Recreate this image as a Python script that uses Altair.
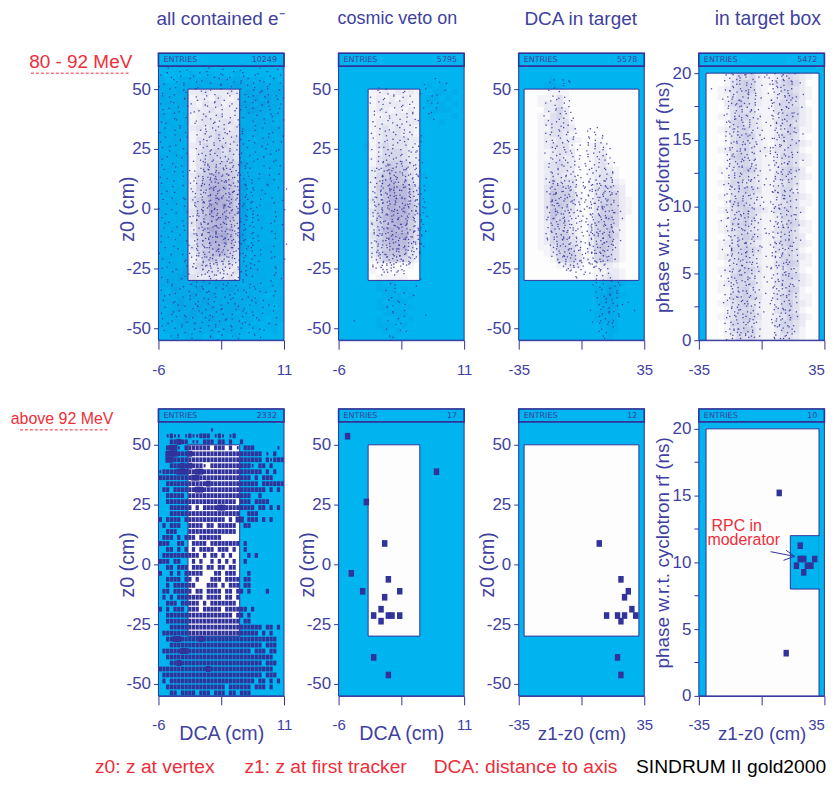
import altair as alt
import pandas as pd

BLUE = "#00b5ef"
NAVY = "#32329b"
TEXT = "#3f419f"
RED = "#ee2e3a"
WHITE = "#fdfdfd"
FONT = "Liberation Sans"

COLUMN_TITLES = ["all contained e\u207b", "cosmic veto on", "DCA in target", "in target box"]
TITLE_X = [62.3, 59, 62.2, 69.2]
TITLE_SIZE = [19, 18, 19, 19.4]
ENTRIES_TOP = [10249, 5795, 5578, 5472]
ENTRIES_BOTTOM = [2332, 17, 12, 10]

# density read from the top row, digit 0-9, 20 columns, rows from the top of the panel down
DENS1 = [
"00000000000000000000","00000100100010000000","10011112112122111010","11112121222232212111",
"12121223222322323222","21212122132122232321","12122213231223323221","11211222322222332211",
"21212123232222222121","12112123323321222211","11211232333232221221","21121123343332121112",
"11211133343342112211","12111224344332122111","11211134453432111211","21112134544432112111",
"11212134555443211121","12111135565542111111","11211245676542112111","11112146787643211211",
"21111256888654111111","12111245887753112111","11211356898753211111","11111256989754111211",
"21112356988763111111","11111257889753112111","12111356788653111111","11211257988743111111",
"11111356899753211111","11121256889743111111","11111345787643211211","11211246677532111111",
"12112135654431111111","11212244333322211111","21223233332232221111","12232322322322212111",
"22222323232221221111","11322232222322112111","21222322322212211011","12232223222222121111",
"21232232322232121101","12222322222212111111","11223222322221211011","12122222222121110110",
"01112121211211010010","00101110101010000000",
]
DENS2 = [
"00000000000000000000","00000000000000000000","00000000000000000000","00000000000000101000",
"00000112121210011010","00000121212110110100","00000122222110101010","00000122121210011100",
"00000112222210100010","00000122222220001000","00000123232210000000","00000123332210000000",
"00000123333220000000","00001134333210000000","00000124443220000000","00000134443220000000",
"00000134554320000000","00000235655320000000","00000245665321000000","00000246766420000000",
"00000256877530000000","00000246877530000000","00000346888530000000","00000256878640000000",
"00000356888640000000","00000257887630000000","00000346788530000000","00000257877530000000",
"00000346888530000000","00000256877530000000","00000245777420000000","00000246666320000000",
"00000135554310000000","00000010100100000000","00000101010000000000","00000011111000000000",
"00000010100000000000","00000011101000000000","00000001110100000000","00000010111000000000",
"00000011010100000000","00000001111000000000","00000010010100000000","00000011101000000000",
"00000001010000000000","00000000100000000000",
]
DENS3 = [
"00000000000000000000","00000000000000000000","00000100000000000000","00001210000000000000",
"00000111000000000000","00011131000000000000","00012231000000000000","00002242000000000000",
"00011342000000000000","00012333100000000000","00011333200000000000","00012332100000000000",
"00012232210010000000","00012333100121000000","00011233200122000000","00011232200123000000",
"00012343210023100000","00012333200123210000","00012332200123310000","00012433310123321000",
"00013554310134432000","00013655410134442000","00013655420134542100","00013565310135542100",
"00013654310135552100","00013644210145642000","00012554210255541000","00012544210245631000",
"00012455310255641000","00012455320245631000","00011355420256531000","00001245530146431000",
"00000144531145531000","00000012320012210000","00000000000011221000","00000000000012321000",
"00000000000001221000","00000000000011320000","00000000000012321000","00000000000012210000",
"00000000000001220000","00000000000012210000","00000000000011210000","00000000000001110000",
"00000000000000110000","00000000000000100000",
]
DENS4 = [
"00001243421123432100","00001345421134542000","00012345421024432100","00011344321123542100",
"00002454321134432000","00001343311134442100","00011344321124542100","00001453321134432100",
"00012344321123541100","00001345421124431000","00001344321023442100","00012344322133431000",
"00001454321124432100","00001344321123431100","00011345421124542000","00001344321134432100",
"00012443321123431000","00001345431134421000","00011344321124432100","00001454321123431100",
"00012345432134432000","00001345421124431000","00011445321123542100","00012344321134431100",
"00001345431124432000","00012344321134532100","00011445431133431000","00012345321124432100",
"00001344321134541100","00012345431123431000","00001454321124542100","00012344421134432100",
"00011345321123541000","00001445431134431100","00012345321124532100","00001344421134431000",
"00012345431123542100","00001444321134432000","00001345421124431000","00001243421123321000",
]

# dots of the top row: one string per row from the top down, 36 cells per string, the digit is where the dot sits in its cell
DOTS1 = [
"..3.....7.....2...5....8.....1....4.",
".6...2.....4.1...7..3..5...9..2.....",
"2..8..4..6...3.9..1.7...4..2...6..3.",
"...5....1..8....2.6...9.3...7...1...",
".7..3.6...2...5..8...1.4..6..3.8..5.",
"4...9..1...7.....3..6....2.8...4....",
"..2...5..3.8..4..1..7.3...5.9.2..6..",
"6...7..2.....1.9...5..4.8...3..7....",
".1.4...8..6..3...7..2....6.1..5..3.9",
"..9...3...5.2..8..4...1.7..4..9..2..",
"5...1....4...7.3.9..6.....3..8.1..6.",
"..7.6..2.....1.5...2.8..4.7...3..9..",
"3....8...9.4..7..3...5.1....6..2....",
".5..2....1..6...8.4..9...3..7...4.1.",
"...9...4....3.7..2.6...5.....8.3....",
"8...3.....5.1..9.4..7.2...6.....5..2",
"..1...7...2..8.3..6.1..4...9..2.....",
".4...5......9.6.2.7..3.8.....4...6..",
"7...2..8...3.5..1.9.4..6...2....8...",
"...6......4.2.7.5.3..8.1..7...3...9.",
".2...9.3....8.1.6.4.2..7.....5.1....",
"5.....1....6.3.9.2.7.5...3.8....6..4",
"..8.4......1.7.4.8.3.6.2....9.2.....",
"3.....6...5.2.9.6.1.4.7..1....5...7.",
"...1....7...8.3.7.5.2..9...6.....3..",
".9..5.....3.6.1.4.8.3.2..5...8.2....",
"6.....2....9.4.8.2.6.7.1....4....8..",
"...7.....1..5.2.9.3.4.6.8.2.....1...",
"2...8.4.....3.7.1.6.9.2.5....6....5.",
".5......9...6.4.8.2.5.7.3.1....3....",
"...3..1.....2.8.5.9.1.4.6...7....9..",
"7.....6....4.9.2.6.3.8.1.5.....2....",
"..2.8.....7.3.6.1.7.4.9.2.6.3....4..",
"4.......5...8.2.5.3.6.1.7.4...8.....",
"...6..3.....1.9.4.8.2.5.3.9....1..7.",
".8......2...6.3.7.1.9.4.2.5.6......3",
"5...1.....4.2.8.5.6.3.7.9.1...4.....",
"...9...7....5.1.9.2.4.8.6.3.....8...",
"2.....3...8.7.4.2.6.1.5.3.7.2.....6.",
"..4.6.....1.3.9.5.8.2.6.4.1.9...3...",
"7......2....6.2.7.3.5.9.1.8.4.......",
"...1...8..5.4.8.1.6.2.7.3.5.....9..2",
".6..3.....9.2.5.8.4.1.3.9.6.7.......",
"4.......1...7.3.6.2.5.8.2.4.....3...",
"..8...5...2.9.6.1.7.4.9.3.8.1...6...",
".3.....7....4.1.8.3.6.2.5.7.....1..5",
"6...2.....6.8.3.5.9.1.4.7.2.6.......",
"...5...1....2.7.4.6.3.8.1.9.....4...",
"9.....4...3.5.9.2.7.6.1.4.3.8....2..",
"..1.7.....8.6.3.1.5.9.2.7.5.....6...",
"5......3....2.8.4.9.3.6.1.8.2.......",
"...8...6..1.7.4.5.2.6.3.9.4.....7..3",
".2...4....5.3.1.8.7.2.5.6.1.9.......",
"7.......9...6.5.2.4.8.1.7.3.....4...",
"..3...1...4.8.6.3.9.5.2.4.6.2...8...",
"6......8....1.2.7.5.3.9.1.5.....1..6",
"...4...2..7.3.9.6.1.8.4.2.8.3.......",
".9.....5....6.4.1.8.2.7.5.3.....9...",
"3...6.....2.5.7.3.4.1.6.9.1.4....2..",
"...1...9....8.2.6.9.5.3.7.......6...",
"8......4..6...4.1.7.2.8.3.5.....3...",
"..5...2.....9.3.5.1..6..4.......7..1",
".3.7....8.1..6...9.4...2.8..5.......",
"...2..6...5.4...7..1.3...9.4....2...",
"6.....1.9...3.8...2...6.5..3.7...8..",
"..8.4.....7..1.5...9.4..2.....1.....",
".2....6.3...9...4.6..7...5.8....3...",
"5..9....1.8..2.7...3...1.6...4......",
"...3.7....4..6...8.2.5...9.2...7....",
".6.....2.9.1...5..7...3.8....6...1..",
"...8.4....6.3..9.1...2.5..7.....4...",
"2..5...7....1.8...4.6...3.9..2......",
".7...1.3.6...5.2...8.7..1...4....6..",
"...4...8...9.3..6.2...5.7...1.......",
"9.2...5...1...7.4...8..3.6.....2.5..",
"...6.3...8.4...2.9..1.6...4.7.......",
".1.....7...5..3.6...2....8...3......",
"...8.5...2....9...4..7.1...5........",
"....3...6.....1.7.....4.....2.......",
]
DOTS2 = [
"",
"",
"",
"..........................3.....",
"........................7...2.5.",
"...........8.....................",
"..........5.3.....7.....1....6..",
"...........2.6.8..1....4...9....",
".........4...7.3..5.2.....3.....",
"..........9.1...6...8...6.......",
"........3...5.2...7.4.....2.1...",
"...........8...4.1..6..5...4....",
".........6.2.7...3..9.....7.....",
"..........4...8.5..2.1...3......",
"...........1.6..9.3..7....8.....",
".........5...3.7...4..2.........",
"..........8.2...6.1.5...........",
"...........4.9..3.7..2..........",
".........7...1.5..8.4...........",
"..........3.6..2.9..1.6.........",
".........2...8.4.7.5............",
"...........5.1..6.3..9.2........",
"..........9.7.3...2.8.4.........",
".........4...6.1.5.9..7.........",
"...........2.8.4..7.3.1.........",
"..........6..3.9.1.5.8..........",
".........1.7.5.2.8.4..6.........",
"...........3.9.6.4.2.7.1........",
"..........8..1.7.3.5.9..........",
".........5.2.6.4.8.1.3.7........",
"...........9.3.7.2.6.5..........",
"..........4.1.8.5.3.9.2.6.......",
".........7.6.2.4.7.1.8..........",
"...........3.8.1.6.5.4.9........",
"..........1.5.9.2.3.7.6.........",
".........8.4.3.7.1.5.2.3........",
"...........6.2.8.4.9.7.1........",
"..........3.7.1.5.6.2.8.4.......",
".........5.9.4.2.8.3.1.6........",
"...........1.6.3.7.2.5.9........",
"..........8.2.5.9.4.1.7.3.......",
".........4.6.7.1.3.8.2.5........",
"...........9.3.2.6.5.7.1.4......",
"..........1.8.5.4.9.3.6.........",
".........7.2.6.1.8.4.2.9........",
"...........4.9.3.7.1.5.8........",
"..........6.1.8.2.3.9.4.7.......",
".........3.5.4.7.6.2.1.8........",
"...........2.9.1.8.5.4.3........",
"..........7.6.3.5.2.9.1.........",
".........1.4.8.2.7.3.6.5........",
"...........5.3.9.6.1.8.2........",
"..........8.7.1.4.3.5.9.........",
".........2.6.5.9.8.1.4..........",
"...........4.1.3.7.6.2..........",
"..........9.5.8.2.1.7...........",
".........6...3.4.9.5............",
"...........2.7.1.8..............",
"............6.3.5...............",
"",
".......................4........",
"..............9..................",
"...............2.....5...........",
".............7.3.................",
"................1.6..............",
"..............8.....3............",
"..............4.9................",
"................2.7..............",
".............5.1.................",
"...............8..6..............",
"..............3.........7........",
"................9.2..............",
"....5.........4..................",
"...............6.1...............",
".............8....................",
"................3.5..............",
"..............7...................",
"...............2..................",
]
DOTS3 = [
"",
"",
"",
".........4.6.8..",
"........2...5.1.",
"..........7.3...",
".......6..9.....",
"",
".........3.8.4..",
"........5.1..6.",
".......2..7.3.",
".........9.5.2.",
"........4.1.6.8",
".......7...3.2.",
"..........9.4.6",
"........1.5.8.3.",
".......6.2..7.4.",
"........3.9.1..5...6.3",
".......8.4.2.6..7..2.5.",
"........1.5.3.9....7.1.4",
".........7.2.8.4...3.8.2",
".......3.6..5.1....6.9.5.7",
"........9.4.7.2.3..1.4.8",
"..........1.6.8.5..7.2.6.3",
".......5.3.9.2.4...9.5.1.7",
"........8.1.7.6.3..4.6.2.8",
".........2.5.4.9.1..7.3.5.",
".......6.3.8.1.7..4.9.1.6.2",
"........4.9.2.5.6.3.8.5.7.",
".........7.1.6.8.2..1.4.3.9",
"........3.5.9.4.7.6.2.8.5.1",
".......8.2.6.1.3.5..7.3.9.4.",
"........9.4.7.5.2.8.4.1.6.3.",
".........1.3.8.6.9..5.2.7.8.",
"........6.7.2.4.1.3.9.6.3.1.",
".......4.9.5.3.8.7.2.1.8.4.5",
"........2.1.6.7.4..5.3.9.6.2.",
".........8.5.3.9.6.7.4.1.8.",
"........3.7.1.2.5.4.9.6.2.5.",
".......9.6.4.8.3.1..2.8.7.1.4",
"........1.5.2.7.9.6.3.5.4.9.",
".........3.8.6.4.1..8.7.1.6.2",
"........7.2.9.5.6.4.2.3.9.8.",
".......4.1.3.8.2.7..5.6.1.4.3",
"........6.9.5.7.4.3.8.2.7.6.",
".........2.4.1.8.6..9.1.3.5.",
"........8.3.7.6.1.9.4.8.2.7.4",
".......5.1.9.2.4.3..6.5.1.3.",
"........7.4.6.8.5.2.9.3.7.4.",
".........2.3.1.9.7..1.6.8.2.5",
"........9.6.5.4.8.3.7.4.1.9.",
"..........1.2.7.6.9.2.5.3.6.",
".........8.4.3.5.1..8.9.4.2.",
"..........6.9.2.7.4.3.1.7.5.",
"...........3.1.8.6..5.8.2.9.",
"...........7.4.5.2.9.6.4.1.",
"............9.6.3.8.2.7.5.",
".............5.1.7..3.9.6.",
"..............2.4.6.7..1.8",
"...............8.3...5.4",
"................1....6.9.3",
"......................4.7.2.5",
"....................2.8...6.1",
".......................5.3.9",
"......................1...7.4",
".....................9.6.2.8",
"........................3.5",
"......................7.1.4.9.2",
".......................6.8.3",
"....................5..2.9.7.....4",
".......................4.1.6",
"......................3.8...2",
".....................7.5.9.4",
"......................2.6.1",
".......................8..3",
"......................4.7",
".......................9",
"........................5",
]
DOTS4 = [
".......6.2.8.4.1...5.3.9.7.2",
"........4.7.3.9.2.1..6.8.4.",
".......1.5.2.8.6....3.7.1.5.9",
"........9.3.6.1..4.2.8.5.3.",
"...4...7.2.5.9.8....6.1.7.4.",
"........3.6.1.4.7..9.5.2.8.",
".......8.1.9.2.5.....3.6.4.7.1",
"......5..4.7.3.6.2..8.1.9.2.",
"........2.9.1.8.4....5.7.6.3.",
".......6.3.5.7.2....4.2.8.1.9",
"........1.8.4.9.6..3.7.5.2.",
".......7.5.2.3.1.....9.4.6.8.",
"......3..6.9.1.7.4..2.8.3.5.",
"........8.2.4.5.3....1.6.7.9.",
".......1.7.3.9.6..2..5.4.8.",
"........5.6.2.4.8....9.1.3.7.",
".......9.3.7.1.5..4..6.2.8.",
"........4.8.6.2.9....3.7.5.1.4",
".......2.1.5.3.7..8.9.6.4.",
"......6..7.9.4.8.1...2.5.3.6.",
"........3.2.6.1.4....8.7.9.2.",
".......8.5.9.7.3..6..4.1.5.",
"........1.4.2.8.6....7.3.9.8.",
".......6.7.3.5.2..9.1.4.8.5.",
"........9.1.8.4.7....2.6.3.",
".......2.6.5.3.1.....8.9.4.7.1",
"........8.3.7.9.4..6.5.2.1.",
".......4.1.2.6.5.....3.7.8.9.",
"......7..9.8.3.2.1...6.4.5.2.",
"........5.4.1.7.6....9.3.2.8.",
".......3.2.9.8.1..5..4.7.6.",
"........7.6.4.2.3....1.8.5.9.",
".......1.8.5.9.7..3.2.6.4.",
"........4.3.2.6.1....7.9.8.5.",
".......9.7.1.4.8....3.5.2.6.4.",
"......2..5.6.3.9.7...8.1.4.",
"........8.1.7.2.4....6.3.9.5.",
".......3.9.4.5.6..2..7.8.1.",
"........6.2.1.8.3....4.9.5.7.",
".......5.4.7.9.2..1.8.3.6.",
"........1.3.6.4.8....2.5.7.9.1",
".......8.9.2.5.7.....6.4.3.",
"......4..3.1.7.6.2...9.8.5.2.",
"........6.5.8.4.1....3.7.2.9.",
".......2.7.9.3.5..8..1.6.4.",
"........4.1.2.6.3....7.8.9.5.",
".......9.8.5.1.4..2..3.6.7.",
"........3.6.7.9.2....4.1.8.5.",
".......1.2.4.8.6.....9.5.3.7.1",
"........7.5.3.1.9..6.2.4.8.",
"......8..4.9.2.7.3...1.6.5.9.",
"........2.8.6.5.1....4.7.3.",
".......6.1.3.7.4..9..8.2.5.6.",
"........9.4.8.2.5....3.1.7.",
".......3.7.1.6.9.....5.8.4.2.",
"........5.2.4.3.8..7.6.9.1.",
".......8.6.9.1.7....3.2.4.5.",
"........1.3.5.8.2....9.6.7.4.",
"......4..7.2.9.6..8..1.3.5.",
".......2.9.8.4.1.....6.7.3.9.",
"........6.5.3.7.4..1.2.8.9.",
".......1.4.7.2.8.....5.3.6.4.",
"........3.8.9.6.5....2.1.7.",
".......7.2.1.5.3..6..4.9.8.5.",
"........9.6.4.3.8....7.2.1.6.",
".......5.1.8.7.2.....3.9.4.",
"......3..2.7.6.9.1...8.5.6.3.",
"........8.4.3.1.5....9.7.2.",
".......6.9.2.8.4..7..1.3.5.8.",
"........1.7.5.3.6....4.2.9.",
".......4.3.6.9.1.....8.7.5.2.",
"........9.2.8.4.7....6.1.3.",
".......2.6.1.5.3.....9.4.8.7.",
"........7.8.4.2.9....3.5.1.",
".......5.3.9.6.1.....8.2.7.4.",
"........1.6.2.7.8....4.9.3.",
".......8.4.5.3.2.....1.6.5.",
]

# the dense core of the DCA panels, z from 20 down to -28, same cell width
CORE = [
"............3.7...1.5",
"...........8.2.6..9.3",
"..........4.6.1.7.2",
"...........9.3.8.5.4.6",
"..........1.7.2.4.9.3",
"..........6.5.8.1.3.7",
"...........2.9.4.6.8.1",
".........5.3.7.2.1.9.4",
"..........8.1.6.5.7.2.3",
".........4.6.9.3.2.8.5",
"..........7.2.5.1.9.4.6",
".........3.8.4.7.6.1.2",
"..........9.1.3.8.5.2.7",
".........6.5.2.4.7.9.3",
"..........4.7.8.1.2.6.9",
".........1.3.6.9.5.4.8",
"..........7.2.4.3.1.8.6",
".........8.9.5.6.2.7.1",
"..........3.1.7.4.9.5.2",
".........5.6.2.8.3.1.7",
"..........9.4.1.6.8.2.3",
".........2.7.3.5.4.9.1",
"..........6.8.9.2.7.3.5",
".........4.1.5.7.1.6.8",
"..........3.9.2.8.5.4",
".........7.6.4.1.3.2",
"..........2.5.3.9.8",
"...........8.1.7.6",
]
# the dense parts of the two lobes of the DCA in target panel, z from 12 down to -26
LOBES = [
".........3.7.1.5....4.8.2.6",
"........6.2.9.4...7.1.3.9",
"..........8.5.3.....6.2.5.8",
".........1.7.2.6...4.9.1.3",
"........9.4.3.8.....7.5.2.6",
".........5.1.6.2...8.3.9.4",
"..........7.8.4.9..2.6.1.7",
"........2.3.5.1.....4.9.8.3",
".........6.9.7.4...5.1.2.6",
"..........1.2.8.3..7.4.3.9",
"........4.7.6.5.....2.8.1.5",
".........9.3.1.2...6.5.7.4",
"..........5.8.4.7..3.1.9.2",
"........1.6.2.9.....7.4.8.6",
".........7.4.3.5...2.9.1.3",
"..........2.9.1.6..8.5.6.4",
".........8.3.7.4...1.3.2.9",
"..........5.6.1.9..4.7.8",
"...........2.4.8.3..6.1.5",
"............9.7.1...3.4",
]
# a second pass over the two bands of the target box panel, rows spread over the full height
BANDS = [
".........3.6.2......4.7.1.8","........7.1.9.4.....2.6.9.",".........5.8.3......8.3.5.7",
"........2.6.1.7.....1.9.4.",".........9.4.5......6.2.7.3","........3.7.8.2.....5.1.8.",
".........1.5.6......9.4.3.2","........8.2.4.9.....7.6.1.",".........6.3.7......2.8.5.9",
"........4.9.1.5.....3.7.6.",".........2.8.3......1.5.9.4","........7.5.6.1.....8.2.3.",
".........3.1.9......6.4.7.1","........6.4.2.8.....5.9.2.",".........8.7.5......3.1.6.8",
"........1.9.3.6.....4.7.9.",".........5.2.4......7.3.1.5","........9.6.8.3.....2.8.4.",
".........4.1.7......9.6.5.2","........2.5.9.8.....1.3.7.",".........7.3.6......4.2.8.6",
"........8.4.1.5.....6.9.3.",".........1.9.2......5.7.4.1","........3.6.7.4.....8.1.6.",
".........5.8.1......2.4.9.7","........4.2.6.9.....7.5.1.",".........9.7.3......3.6.2.8",
"........6.1.5.2.....9.8.4.",
]

# boxes of the 2332-entry histogram: level of each 0.5 cm x 2.5 cm bin, rows from z = 56.25 down
BOX1 = [
"..............1...................",
"..1211.1211222.121.12.............",
"...22322.11.222.22.2..2...........",
"..2331.2222222.222.2.1.222......1.",
"..33322232222222222222222222.1.2..",
"..33222222222222222222222222.21222",
"...2223232221.222222222221.22.2...",
"1222233322332222222222222222.2.2..",
"2222222223322222222222222.2.222...",
"..2222222222232222222222222.222222",
".22.2222223322222222222222222.2.2.",
"..22222.22222222222222222..2......",
"..2222222222222222222.222.2222....",
"...222222.2.22223322222222.22.2.2.",
"...2222222222222222222..222.......",
"2.2222.22222222222.2.33.222.2.2...",
".2.222..2222.22.22222..22.........",
"..222...2222222222222.............",
".222.2.222.222222..................",
"222..22..2222.22222222.2..........",
"..22.2.2.2.2222.222.2..2..........",
".2222222222.2.22.2.2....2.2.......",
"222.22...2.2..2.2.2.2..2..........",
"..22.222.222.22.22.22.............",
"2..2.2.22222...22.222...2.........",
"..2222.22.2...222.2222.22.........",
"..2.222222...222.2.222.22.........",
".22.22222.22.2222.22.22.2....2....",
".2.2.2222222.2222.22.2............",
"..222.22222.2.2222222.............",
"2.2.222.222.22222.222222.2........",
"..222222222222222222.22.2.........",
"..22222222222222222222.22.........",
"...2222222222222222222222222.22.2.",
".22222222222222222222222222.2.2...",
"..223322222322222222222222222222..",
"...2222222222222222222222222.222..",
".222223322222222222222222.222.22..",
"..22222222222222222222222222222...",
"...2232222222222222222222222.222..",
"2222222222222322222222222222222...",
".222222222222222222222222222.222..",
".2.22222222222222222222222.22.2.2.",
"..2222222222222222.222222.222.2...",
"...22.2222.222.222.22.222.........",
]

P2_X = [-4.78,7.26,-2.24,0.24,-4.28,0.74,-2.74,2.28,0.24,-0.25,-1.25,0.74,1.24,2.28,-0.25,-1.25,0.74]
P2_Z = [53.6,38.75,26.1,8.75,-3.75,-6.25,-11.25,-11.25,-13.75,-18.75,-21.4,-21.4,-21.4,-21.4,-23.75,-38.9,-46.25]
P3_X = [9.9,22,26.1,24,28.1,14,20.1,24,30.2,22,20.1,22]
P3_Z = [8.75,-6.25,-11.25,-13.75,-18.75,-21.4,-21.4,-21.4,-21.4,-23.75,-38.9,-46.25]
P4_X = [9.8,13.7,21.5,19.4,21.5,23.5,25.5,27.5,29.6,23.5]
P4_Y = [15.2,3.2,11.25,9.75,10.25,10.25,9.75,9.75,10.25,9.25]

ARROW_X0 = [5, 13.7, 12.2]
ARROW_Y0 = [10.8, 10.9, 10.15]
ARROW_X1 = [18.3, 18.3, 18.3]
ARROW_Y1 = [10.45, 10.45, 10.45]

ROW_SHIFT = [0, 0.7, 0.25, 0.9, 0.45, 0.1, 0.8, 0.35]

DCA = ([-6, 11], [-6, 2.5, 11], ["-6", "11"])
Z10 = ([-35, 35], [-35, 0, 35], ["-35", "35"])

PANEL_W = 126
PANEL_H = 288


def dens_frame(rows, xr, ytop, ystep):
    n = 20
    w = (xr[1] - xr[0]) / n
    out = []
    for i, r in enumerate(rows):
        for j, c in enumerate(r):
            if c != "0":
                out.append(dict(x0=xr[0] + j * w, x1=xr[0] + (j + 1) * w,
                                y0=ytop - i * ystep, y1=ytop - (i + 1) * ystep, d=int(c)))
    return pd.DataFrame(out)


def dots_frame(rows, xr, ytop, ybottom):
    w = (xr[1] - xr[0]) / 36
    h = (ytop - ybottom) / len(rows)
    out = []
    for i, r in enumerate(rows):
        for j, c in enumerate(r[:36]):
            if c != ".":
                d = int(c) - 1
                x = xr[0] + (j + (d % 3 + 0.5) / 3 + ROW_SHIFT[i % len(ROW_SHIFT)]) * w
                out.append(dict(x=x, y=ytop - (i + (d // 3 + 0.5) / 3) * h))
    return pd.DataFrame(out)


def rect_frame(xs, ys, hw, hh):
    return pd.DataFrame(dict(x0=[v - hw for v in xs], x1=[v + hw for v in xs],
                             y0=[v - hh for v in ys], y1=[v + hh for v in ys]))


def panel(xspec, entries, box, notch=None, dens=None, dots=None, rects=None, extra=(),
          xtitle=None, phase=False, arrows=False, tone=0.42):
    xd, xvals, xlab = xspec
    yd = [0, 21.49] if phase else [-55, 65]
    xs = alt.Scale(domain=xd, nice=False, zero=False)
    ys = alt.Scale(domain=yd, nice=False, zero=False)
    yvals = [0, 2.5, 5, 7.5, 10, 12.5, 15, 17.5, 20] if phase else [50, 25, 0, -25, -50]
    align = {"condition": {"test": "datum.value==35", "value": "right"}, "value": "center"} if phase else "center"
    xaxis = alt.Axis(values=xvals, title=xtitle, grid=False, tickSize=9, tickColor=NAVY, domainColor=NAVY,
                     labelExpr=f"datum.value=={xd[0]}?'{xlab[0]}':datum.value=={xd[1]}?'{xlab[1]}':''",
                     labelFont=FONT, labelFontSize=15, labelColor=TEXT, labelPadding=13, labelAngle=0,
                     labelAlign=align,
                     labelOverlap=False, labelFlush=False, labelBound=False, titleFont=FONT,
                     titleFontSize=18.8 if xd[0] == -35 else 19.7,
                     titleFontWeight="normal", titleColor=TEXT, titleY=38, titleBaseline="middle")
    yaxis = alt.Axis(values=yvals, title="phase w.r.t. cyclotron rf (ns)" if phase else "z0 (cm)", grid=False,
                     tickSize=5, tickColor=NAVY, domainColor=NAVY,
                     labelExpr="datum.value%5==0?''+datum.value:''" if phase else "''+datum.value",
                     labelFont=FONT, labelFontSize=17, labelColor=TEXT, labelPadding=3, labelOverlap=False,
                     labelBound=False, labelFlush=False, titleFont=FONT, titleFontSize=19 if phase else 19.7,
                     titleFontWeight="normal",
                     titleColor=TEXT, titleAngle=-90, titleBaseline="middle", titleAlign="center",
                     titleX=-36 if phase else -31, titleY=144 if phase else 156)

    def X(f):
        return alt.X(f, type="quantitative", scale=xs, axis=xaxis)

    def Y(f):
        return alt.Y(f, type="quantitative", scale=ys, axis=yaxis)

    def rect(df, **mk):
        return alt.Chart(df).mark_rect(**mk).encode(X("x0"), alt.X2("x1"), Y("y0"), alt.Y2("y1"))

    def one(a, b, c, d):
        return pd.DataFrame(dict(x0=[a], x1=[b], y0=[c], y1=[d]))

    layers = [rect(one(xd[0], xd[1], yd[0], yd[1]), fill=BLUE, stroke=NAVY, strokeWidth=1)]
    layers.append(rect(one(*box), fill=WHITE, stroke=NAVY, strokeWidth=1))
    if notch:
        layers.append(rect(one(*notch), fill=BLUE, stroke=NAVY, strokeWidth=1))
        layers.append(rect(one(notch[1] - 0.4, notch[1] + 1, notch[2] + 0.04, notch[3] - 0.04), fill=BLUE))
    if dens is not None:
        layers.append(alt.Chart(dens).mark_rect(fill=NAVY).encode(
            X("x0"), alt.X2("x1"), Y("y0"), alt.Y2("y1"),
            opacity=alt.Opacity("d:Q", scale=alt.Scale(domain=[0, 9], range=[0, tone]), legend=None)))
    if dots is not None:
        layers.append(alt.Chart(dots).mark_square(size=1.7, color=NAVY, opacity=0.85).encode(X("x"), Y("y")))
    if rects is not None:
        layers.append(rect(rects, fill=NAVY))
    top = yd[1]
    hdr = 5.4 * (yd[1] - yd[0]) / 120
    layers.append(rect(one(xd[0], xd[1], top - hdr, top), fill=BLUE, stroke=NAVY, strokeWidth=1.6))
    if arrows:
        arrow_df = pd.DataFrame(dict(x0=ARROW_X0, x1=ARROW_X1, y0=ARROW_Y0, y1=ARROW_Y1))
        layers.append(alt.Chart(arrow_df).mark_rule(color=NAVY, strokeWidth=1).encode(
            X("x0"), alt.X2("x1"), Y("y0"), alt.Y2("y1")))
    layers.append(label("ENTRIES", 5, 7, 8, TEXT, "left", "DejaVu Sans"))
    layers.append(label(str(entries), 119, 7, 8, TEXT, "right", "DejaVu Sans"))
    layers.extend(extra)
    return alt.layer(*layers).properties(width=PANEL_W, height=PANEL_H)


def label(text, x, y, size=19, color=TEXT, align="center", font=FONT):
    return alt.Chart(pd.DataFrame({"a": [1]})).mark_text(
        text=text, font=font, fontSize=size, color=color, align=align, baseline="middle"
    ).encode(x=alt.value(x), y=alt.value(y))


def dash(x0, x1, y):
    return alt.Chart(pd.DataFrame({"a": [1]})).mark_rule(color=RED, strokeDash=[3, 2], strokeWidth=1).encode(
        x=alt.value(x0), x2=alt.value(x1), y=alt.value(y))


def title(i):
    return label(COLUMN_TITLES[i], TITLE_X[i], -34, TITLE_SIZE[i])


DCA_BOX = (-2, 5, 50, -30)
Z_BOX = (-32, 32, 50, -30)
PHASE_BOX = (-31, 32, 0, 20)

box_rows = []
for i, r in enumerate(BOX1):
    zc = 56.25 - 2.5 * i
    for j, c in enumerate(r[:34]):
        if c != ".":
            hw = {"1": 0.13, "2": 0.22, "3": 0.31}[c]
            hh = {"1": 0.7, "2": 1.0, "3": 1.25}[c]
            xc = -6 + 0.25 + 0.5 * j
            box_rows.append(dict(x0=xc - hw, x1=xc + hw, y0=zc - hh, y1=zc + hh))
box_df = pd.DataFrame(box_rows)

core_a = dots_frame(CORE, (-6, 11), 20, -28)
p1_dots = pd.concat([dots_frame(DOTS1, (-6, 11), 59, -55), core_a])
p2_dots = pd.concat([dots_frame(DOTS2, (-6, 11), 59, -55), core_a])
p3_dots = pd.concat([dots_frame(DOTS3, (-35, 35), 59, -55), dots_frame(LOBES, (-35, 35), 12, -26)])
p4_dots = pd.concat([dots_frame(DOTS4, (-35, 35), 20, 0), dots_frame(BANDS, (-35, 35), 20, 0)])

p1 = panel(DCA, ENTRIES_TOP[0], DCA_BOX, dens=dens_frame(DENS1, (-6, 11), 60, 2.5), dots=p1_dots,
           extra=[title(0), label("80 - 92 MeV", -78, 9, 19, RED), dash(-128, -28, 20)])
p2 = panel(DCA, ENTRIES_TOP[1], DCA_BOX, dens=dens_frame(DENS2, (-6, 11), 60, 2.5), dots=p2_dots, extra=[title(1)])
p3 = panel(Z10, ENTRIES_TOP[2], Z_BOX, dens=dens_frame(DENS3, (-35, 35), 60, 2.5), dots=p3_dots, extra=[title(2)], tone=0.28)
p4 = panel(Z10, ENTRIES_TOP[3], PHASE_BOX, dens=dens_frame(DENS4, (-35, 35), 20, 0.5), dots=p4_dots,
           phase=True, extra=[title(3)], tone=0.25)

FOOT_Y = 359
p5 = panel(DCA, ENTRIES_BOTTOM[0], DCA_BOX, rects=box_df, xtitle="DCA (cm)", extra=[
    label("above 92 MeV", -96.7, 10, 16, RED), dash(-139, -49, 21),
    label("z0: z at vertex", -63.7, FOOT_Y, 19.3, RED, "left"),
    label("z1: z at first tracker", 86.3, FOOT_Y, 19.3, RED, "left"),
    label("DCA: distance to axis", 276.3, FOOT_Y, 19.3, RED, "left"),
    label("SINDRUM II gold2000", 479.3, FOOT_Y, 19.3, "#000000", "left")])
p6 = panel(DCA, ENTRIES_BOTTOM[1], DCA_BOX, rects=rect_frame(P2_X, P2_Z, 0.37, 1.4), xtitle="DCA (cm)")
p7 = panel(Z10, ENTRIES_BOTTOM[2], Z_BOX, rects=rect_frame(P3_X, P3_Z, 1.5, 1.4), xtitle="z1-z0 (cm)")
p8 = panel(Z10, ENTRIES_BOTTOM[3], PHASE_BOX, notch=(16, 32, 8, 12), rects=rect_frame(P4_X, P4_Y, 1.5, 0.25),
           xtitle="z1-z0 (cm)", phase=True, arrows=True,
           extra=[label("RPC in", 38, 118, 16, RED), label("moderator", 45, 132, 16, RED)])

chart = alt.concat(p1, p2, p3, p4, p5, p6, p7, p8, columns=4, spacing={"column": 54.8, "row": 69}, bounds="flush").properties(
    padding={"left": 2, "top": 0, "right": -1, "bottom": 0}, background="white"
).configure_view(stroke=None)

chart.save("out.html", embed_options={"renderer": "svg", "actions": False})
